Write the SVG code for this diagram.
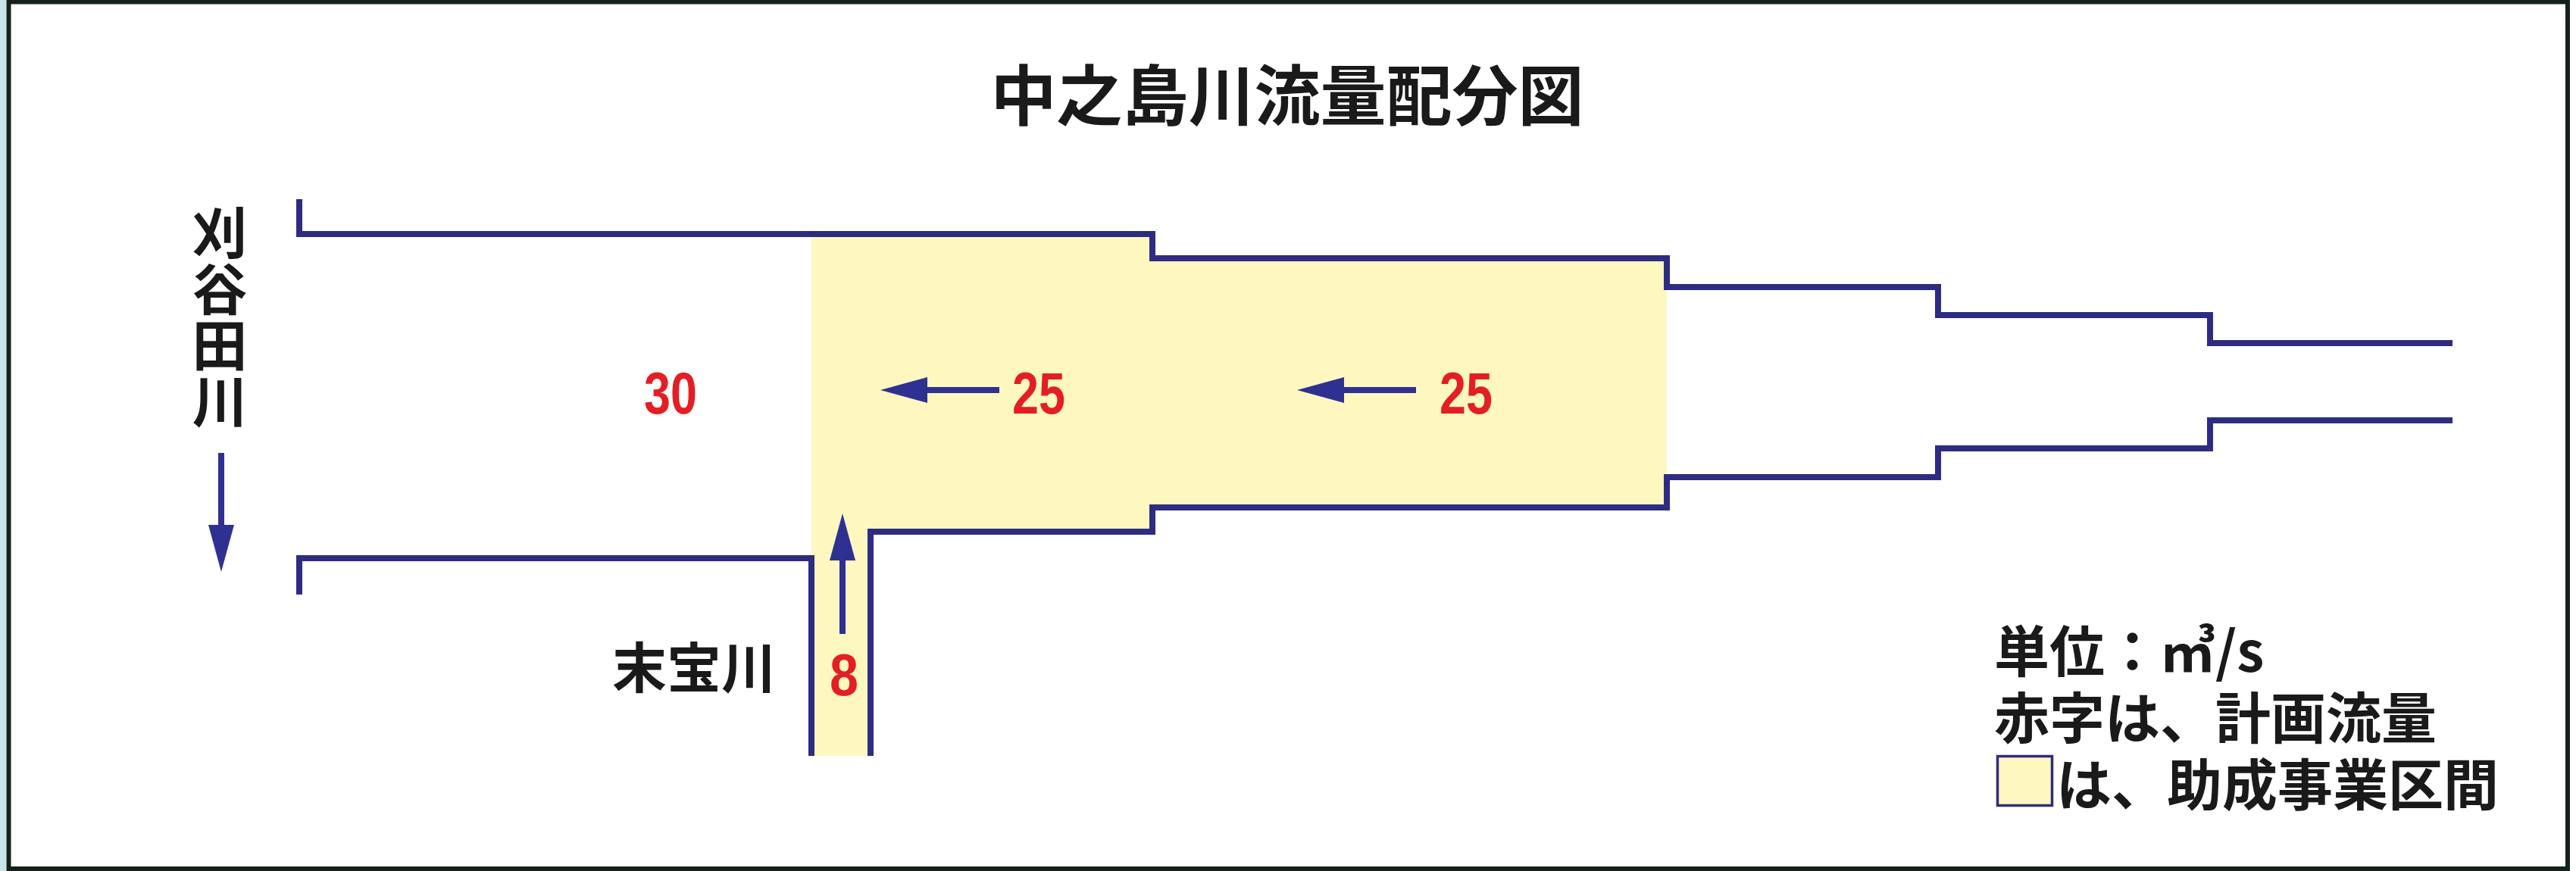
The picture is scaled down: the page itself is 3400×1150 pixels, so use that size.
<svg xmlns="http://www.w3.org/2000/svg" width="3400" height="1150" viewBox="0 0 3400 1150">
  <defs>
    <style>
      .wall { fill: none; stroke: #2E2C80; stroke-width: 8; stroke-linejoin: miter; stroke-linecap: butt; }
      .jp { font-family: "Noto Sans CJK JP", "Noto Sans CJK SC", sans-serif; font-weight: bold; fill: #1A1A1A; }
      .num { font-family: "Liberation Sans", Arial, sans-serif; font-weight: bold; fill: #E31E24; font-size: 78px; text-anchor: middle; }
      .flow { stroke: #2E3192; stroke-width: 8; fill: none; }
    </style>
    <marker id="ah" viewBox="0 0 62 34" refX="0" refY="17" markerWidth="62" markerHeight="34" markerUnits="userSpaceOnUse" orient="auto">
      <path d="M0,0 L62,17 L0,34 Z" fill="#2E3192"/>
    </marker>
  </defs>

  <g id="frame">
    <rect x="0" y="0" width="3400" height="1150" fill="#FFFFFF"/>
    <rect x="0" y="0" width="8" height="1150" fill="#C8E6E6"/>
    <rect x="11.5" y="2.5" width="3377.5" height="1144.5" fill="none" stroke="#14211B" stroke-width="6"/>
  </g>

  <g id="title">
    <text class="jp" x="1699" y="159" font-size="87" text-anchor="middle">中之島川流量配分図</text>
  </g>

  <g id="subsidy-section">
    <path d="M1071,309 L1521,309 L1521,341 L2200,341 L2200,670 L1521,670 L1521,702 L1149,702 L1149,998 L1071,998 Z" fill="#FFF7C0"/>
  </g>

  <g id="channel">
    <path class="wall" d="M395,263 L395,309 L1521,309 L1521,341 L2200,341 L2200,379 L2558,379 L2558,416 L2917,416 L2917,453 L3237,453"/>
    <path class="wall" d="M3237,555 L2917,555 L2917,592 L2558,592 L2558,630 L2200,630 L2200,670 L1521,670 L1521,702 L1149,702 L1149,998"/>
    <path class="wall" d="M395,785 L395,737 L1071,737 L1071,998"/>
  </g>

  <g id="label-kariyata">
    <text class="jp" x="290" y="271" font-size="73" writing-mode="vertical-rl" style="writing-mode: vertical-rl; letter-spacing: 1px;">刈谷田川</text>
  </g>

  <g id="label-suehou">
    <text class="jp" x="1024" y="908" font-size="72" text-anchor="end">末宝川</text>
  </g>

  <g id="flows">
    <text class="num" x="885" y="546" textLength="70" lengthAdjust="spacingAndGlyphs">30</text>
    <text class="num" x="1371" y="546" textLength="70" lengthAdjust="spacingAndGlyphs">25</text>
    <text class="num" x="1935" y="546" textLength="70" lengthAdjust="spacingAndGlyphs">25</text>
    <text class="num" x="1114" y="918" textLength="38" lengthAdjust="spacingAndGlyphs">8</text>
  </g>

  <g id="connectors">
    <line class="flow" x1="292" y1="598" x2="292" y2="693" marker-end="url(#ah)"/>
    <line class="flow" x1="1319" y1="515" x2="1224" y2="515" marker-end="url(#ah)"/>
    <line class="flow" x1="1869" y1="515" x2="1774" y2="515" marker-end="url(#ah)"/>
    <line class="flow" x1="1112" y1="837" x2="1112" y2="740" marker-end="url(#ah)"/>
  </g>

  <g id="legend">
    <rect x="2636.5" y="998.5" width="72" height="65" fill="#FFF7C0" stroke="#2E2C80" stroke-width="3.5"/>
    <text class="jp" font-size="73">
      <tspan x="2632" y="887">単位：㎥/s</tspan>
      <tspan x="2632" y="975">赤字は、計画流量</tspan>
      <tspan x="2714" y="1063">は、助成事業区間</tspan>
    </text>
  </g>
</svg>
